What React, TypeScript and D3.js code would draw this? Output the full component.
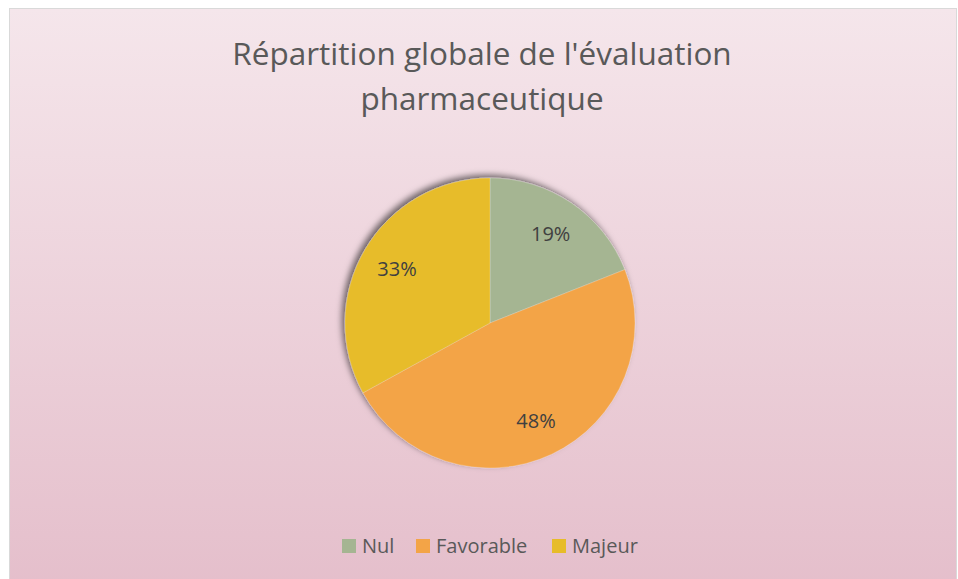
import * as React from "react";
import { useRef, useEffect } from "react";
import * as d3 from "d3";

// categories and values (percent)
const categories = ["Nul", "Favorable", "Majeur"];
const values = [19, 48, 33];
const colors = ["#A5B592", "#F3A447", "#E7BC29"];
const titleLines = ["Répartition globale de l'évaluation", "pharmaceutique"];

const W = 958;
const H = 579;

export default function App() {
  const ref = useRef<SVGSVGElement>(null);

  useEffect(() => {
    const svg = d3.select(ref.current);
    svg.selectAll("*").remove();
    const font = "'Open Sans', sans-serif";

    const defs = svg.append("defs");
    const grad = defs
      .append("linearGradient")
      .attr("id", "bg")
      .attr("x1", 0)
      .attr("y1", 0)
      .attr("x2", 0)
      .attr("y2", 1);
    grad.append("stop").attr("offset", "0%").attr("stop-color", "#F5E6EB");
    grad.append("stop").attr("offset", "100%").attr("stop-color", "#E4BDCA");

    const shadow = defs
      .append("filter")
      .attr("id", "shadow")
      .attr("x", "-20%")
      .attr("y", "-20%")
      .attr("width", "140%")
      .attr("height", "140%");
    shadow
      .append("feDropShadow")
      .attr("dx", -3)
      .attr("dy", -3)
      .attr("stdDeviation", 3)
      .attr("flood-color", "#000")
      .attr("flood-opacity", 0.55);

    // chart area
    svg
      .append("rect")
      .attr("x", 9.5)
      .attr("y", 8.5)
      .attr("width", 947)
      .attr("height", 600)
      .attr("fill", "url(#bg)")
      .attr("stroke", "#D9D9D9")
      .attr("stroke-width", 1);

    // title
    svg
      .append("text")
      .attr("text-anchor", "middle")
      .attr("font-family", font)
      .attr("font-size", 31.5)
      .attr("fill", "#595959")
      .selectAll("tspan")
      .data(titleLines)
      .join("tspan")
      .attr("x", 482)
      .attr("y", (_, i) => 65 + i * 45)
      .text((d) => d);

    // pie
    const cx = 490;
    const cy = 323;
    const r = 145;
    const pie = d3
      .pie<number>()
      .sort(null)
      .value((d) => d);
    const arcs = pie(values);
    const arc = d3.arc<d3.PieArcDatum<number>>().innerRadius(0).outerRadius(r);
    const labelArc = d3
      .arc<d3.PieArcDatum<number>>()
      .innerRadius(108)
      .outerRadius(108);

    const g = svg.append("g").attr("transform", `translate(${cx},${cy})`);
    g.append("g")
      .attr("filter", "url(#shadow)")
      .selectAll("path")
      .data(arcs)
      .join("path")
      .attr("d", arc)
      .attr("fill", (_, i) => colors[i])
      .attr("stroke", "rgba(255,255,255,0.35)")
      .attr("stroke-width", 0.6);

    g.selectAll("text.lbl")
      .data(arcs)
      .join("text")
      .attr("class", "lbl")
      .attr("x", (d) => labelArc.centroid(d)[0])
      .attr("y", (d) => labelArc.centroid(d)[1])
      .attr("text-anchor", "middle")
      .attr("dominant-baseline", "central")
      .attr("font-family", font)
      .attr("font-size", 20)
      .attr("fill", "#404040")
      .text((d) => `${d.data}%`);

    // legend
    const legendX = [342, 416, 552];
    const lg = svg
      .append("g")
      .selectAll("g")
      .data(categories)
      .join("g")
      .attr("transform", (_, i) => `translate(${legendX[i]},539)`);
    lg.append("rect")
      .attr("width", 14)
      .attr("height", 14)
      .attr("fill", (_, i) => colors[i]);
    lg.append("text")
      .attr("x", 20)
      .attr("y", 14)
      .attr("font-family", font)
      .attr("font-size", 20)
      .attr("fill", "#595959")
      .text((d) => d);
  }, []);

  return (
    <svg
      ref={ref}
      width={W}
      height={H}
      style={{ position: "absolute", left: 0, top: 0, background: "#fff" }}
    />
  );
}
